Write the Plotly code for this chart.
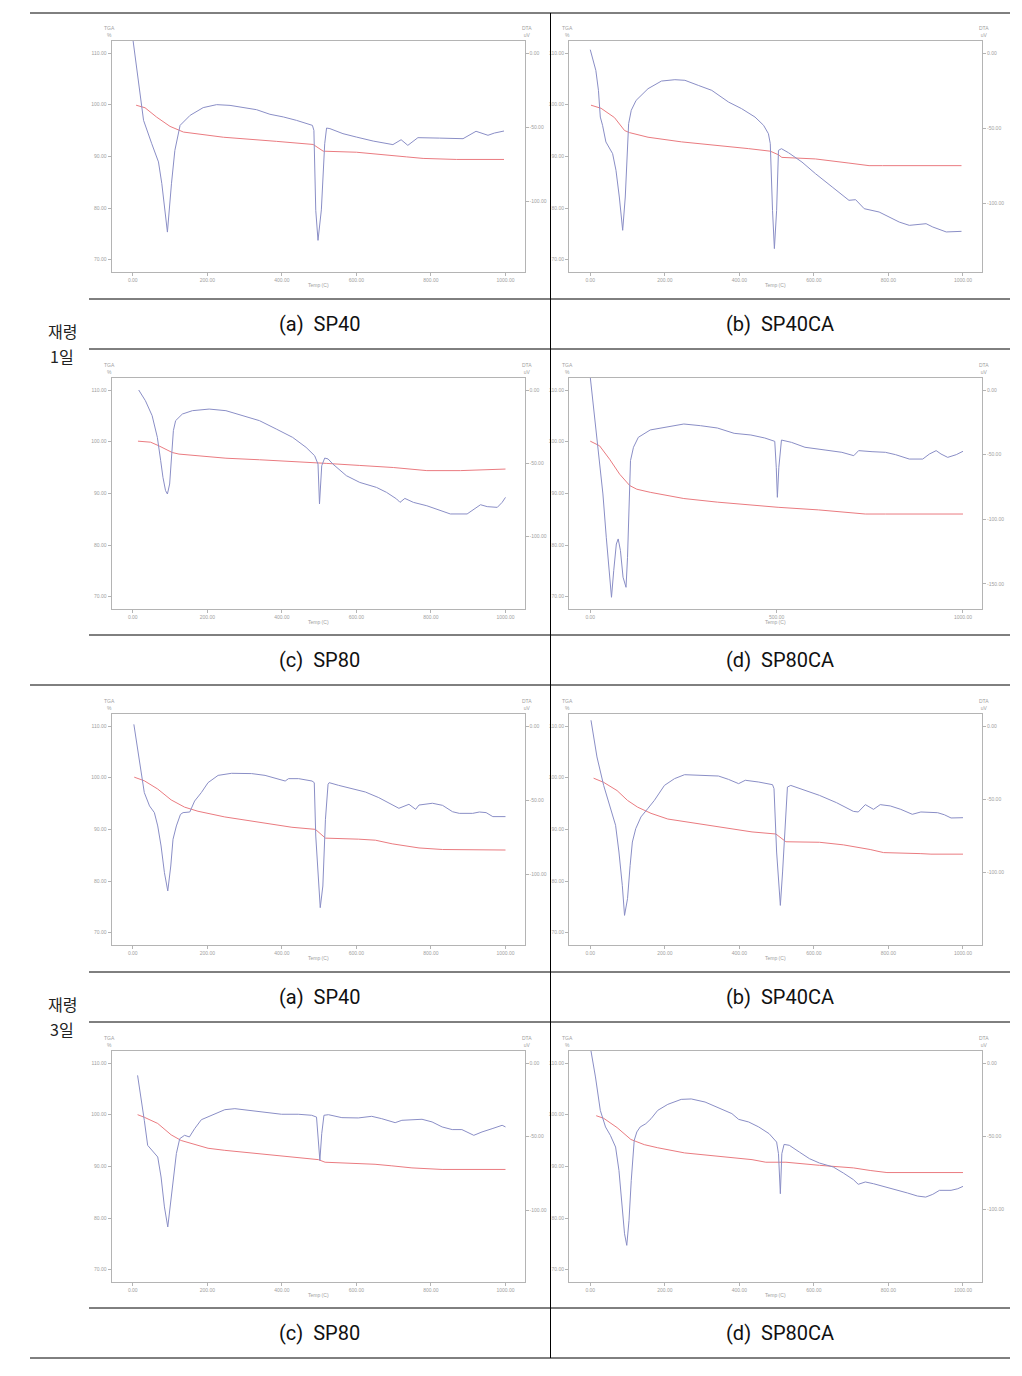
import plotly.graph_objects as go

# ---------------- data ----------------
# Day 1, (a) SP40
t_tga_1a = [9, 33, 64, 100, 136, 243, 386, 484, 511, 600, 734, 779, 868, 996]
tga_1a = [99.9, 99.4, 97.6, 95.8, 94.7, 93.7, 92.9, 92.3, 91.0, 90.8, 89.9, 89.6, 89.4, 89.4]
t_dta_1a = [0, 29, 51, 69, 78, 93, 104, 113, 127, 154, 189, 225, 261, 296, 332, 368, 404, 439, 482, 486, 491,
            497, 506, 515, 520, 529, 564, 600, 645, 698, 720, 738, 765, 823, 886, 921, 953, 970, 996]
dta_1a = [10, -45.5, -61.3, -73.6, -88.3, -121, -88, -65.8, -48.9, -42.1, -36.9, -34.9, -35.4, -36.9, -38.3,
          -41.4, -43.2, -45.5, -48.9, -52.3, -106.3, -126.6, -106, -61.3, -50.7, -51.1, -54.5, -56.8, -59.5,
          -61.9, -58.6, -62.4, -57.2, -57.5, -57.9, -52.9, -55.6, -54.1, -52.7]

# Day 1, (b) SP40CA
t_tga_1b = [2, 29, 65, 92, 105, 155, 245, 335, 424, 483, 505, 514, 604, 694, 748, 784, 996]
tga_1b = [99.9, 99.3, 97.5, 95.0, 94.6, 93.7, 92.8, 92.2, 91.5, 91.0, 90.3, 89.8, 89.5, 88.7, 88.2, 88.2, 88.2]
t_dta_1b = [0, 15, 22, 27, 33, 42, 60, 69, 78, 87, 94, 99, 103, 110, 123, 155, 191, 227, 254, 290, 326, 371,
            406, 442, 465, 478, 483, 489, 494, 500, 505, 513, 532, 568, 604, 649, 694, 712, 735, 775, 829, 856,
            901, 919, 955, 996]
dta_1b = [2.2, -11.6, -24.9, -42.7, -48.2, -59.3, -67.1, -78.2, -96, -118.2, -96, -69.3, -47.1, -38.2, -31.6,
          -23.8, -18.7, -17.8, -18.2, -21.6, -24.9, -32.7, -37.1, -42.7, -48.2, -53.8, -60.4, -104.9, -130.4,
          -104.9, -64.9, -63.8, -66.5, -72.7, -80.4, -89.3, -98.2, -97.8, -103.8, -106, -112.7, -114.9, -113.8,
          -116, -119.3, -118.9]

# Day 1, (c) SP80
t_tga_1c = [14, 48, 70, 106, 124, 196, 250, 340, 429, 501, 519, 609, 699, 789, 879, 1000]
tga_1c = [100.1, 99.9, 99.2, 97.9, 97.6, 97.1, 96.8, 96.5, 96.2, 96.0, 95.8, 95.4, 95.0, 94.4, 94.4, 94.7]
t_dta_1c = [16, 34, 52, 66, 75, 81, 88, 93, 99, 104, 109, 115, 133, 160, 205, 250, 295, 340, 385, 429, 465,
            488, 497, 501, 507, 515, 524, 537, 573, 609, 654, 681, 708, 717, 730, 753, 789, 825, 852, 897, 933,
            951, 978, 991, 1000]
dta_1c = [0, -7.3, -17.5, -32.3, -48.2, -59.5, -68.6, -70.9, -64.1, -41.4, -27.7, -20.9, -16.4, -14.1, -13,
          -14.1, -17.5, -20.9, -26.6, -32.3, -39.1, -44.8, -50.5, -77.7, -51.6, -46.4, -47, -50.5, -58.4, -63,
          -66.4, -69.8, -74.3, -76.6, -73.9, -76.6, -78.9, -81.8, -84.5, -84.5, -78.2, -79.5, -80, -76.6, -73.2]

# Day 1, (d) SP80CA
t_tga_1d = [0, 25, 52, 79, 106, 125, 161, 251, 341, 431, 504, 612, 702, 738, 792, 1000]
tga_1d = [100.1, 99.2, 96.6, 93.7, 91.5, 90.8, 90.2, 89.0, 88.3, 87.7, 87.3, 86.8, 86.2, 86.0, 86.0, 86.0]
t_dta_1d = [0, 12, 25, 34, 43, 51, 57, 63, 70, 75, 81, 88, 96, 100, 105, 108, 116, 129, 161, 206, 251, 296, 341,
            386, 431, 468, 495, 499, 502, 506, 513, 540, 576, 630, 675, 707, 720, 756, 792, 819, 856, 892, 910,
            928, 941, 959, 982, 1000]
dta_1d = [10, -21.1, -54.6, -80.4, -113.9, -144.8, -160.3, -139.7, -119.1, -115.2, -124.2, -144.8, -152.6,
          -129.4, -85.6, -54.6, -44.3, -36.6, -30.9, -28.4, -26.3, -27.6, -29.4, -33.5, -34.8, -37.1, -39.7,
          -59.8, -83, -59.8, -38.7, -40.5, -44.3, -46.4, -48.2, -50.8, -46.9, -47.7, -48.2, -50, -53.4, -53.4,
          -49.5, -46.9, -49.5, -52.1, -50, -47.4]

# Day 3, (a) SP40
t_tga_3a = [4, 31, 67, 103, 139, 175, 247, 337, 427, 490, 508, 517, 606, 651, 696, 768, 831, 876, 1000]
tga_3a = [100.1, 99.4, 97.8, 95.7, 94.3, 93.5, 92.4, 91.4, 90.4, 90.0, 88.8, 88.3, 88.1, 87.9, 87.2, 86.4,
          86.1, 86.1, 86.0]
t_dta_3a = [3, 18, 31, 45, 58, 67, 76, 85, 94, 102, 108, 117, 128, 135, 153, 166, 184, 202, 229, 265, 319, 355,
            391, 409, 418, 445, 481, 487, 491, 499, 503, 510, 517, 524, 527, 552, 588, 624, 660, 696, 714, 741,
            759, 768, 804, 831, 858, 876, 912, 930, 948, 966, 1000]
dta_3a = [1.1, -24.7, -44.9, -53.9, -58.4, -67.4, -80.9, -98.9, -111.2, -94.4, -76.4, -67.4, -59.6, -58.4, -58,
          -50.6, -44.9, -38.2, -33.3, -31.9, -32.1, -33.3, -35.5, -37.1, -35.5, -35.5, -37.1, -38.2, -74.2,
          -112.4, -122.5, -107.9, -62.9, -39.3, -38.2, -40, -42.2, -44.5, -48.3, -52.8, -55.5, -52.8, -56.2,
          -53.3, -52.1, -53.5, -57.8, -58.9, -58.9, -58, -58.4, -61.1, -61.1]

# Day 3, (b) SP40CA
t_tga_3b = [9, 36, 72, 100, 127, 163, 208, 253, 344, 434, 498, 516, 525, 615, 679, 751, 787, 887, 914, 1000]
tga_3b = [99.9, 99.1, 97.5, 95.6, 94.3, 93.1, 92.0, 91.5, 90.4, 89.5, 89.1, 88.1, 87.6, 87.5, 87.0, 86.1,
          85.5, 85.3, 85.2, 85.2]
t_dta_3b = [2, 18, 36, 54, 68, 77, 86, 92, 100, 107, 113, 122, 136, 154, 172, 199, 226, 253, 281, 317, 344, 371,
            398, 416, 452, 489, 493, 500, 507, 510, 516, 525, 529, 538, 579, 615, 661, 706, 719, 738, 760, 778,
            805, 833, 864, 887, 932, 950, 968, 1000]
dta_3b = [3.9, -21.1, -40.5, -56.4, -67.7, -85.9, -108.6, -129.1, -117.7, -95, -79.1, -70, -62, -56.4, -50.7,
          -40.5, -35.9, -33.2, -33.6, -34.1, -34.1, -36.4, -39.3, -37, -38.2, -40, -42.7, -85.9, -117.7, -122.3,
          -99.5, -58.6, -41.6, -40.5, -43.9, -47.3, -52.3, -58.2, -58.6, -53.6, -56.8, -53.6, -54.5, -56.8,
          -60.2, -58.6, -59.1, -60.5, -62.7, -62.5]

# Day 3, (c) SP80
t_tga_3c = [13, 31, 67, 103, 130, 157, 202, 247, 336, 426, 498, 516, 605, 650, 695, 749, 830, 874, 1000]
tga_3c = [100.0, 99.5, 98.3, 96.1, 95.0, 94.4, 93.5, 93.1, 92.5, 91.8, 91.3, 90.8, 90.5, 90.4, 90.1, 89.7,
          89.4, 89.4, 89.4]
t_dta_3c = [13, 21, 31, 40, 54, 67, 76, 85, 94, 103, 110, 117, 126, 139, 152, 166, 184, 211, 247, 274, 309, 336,
            372, 399, 444, 480, 493, 498, 502, 507, 513, 525, 561, 605, 641, 668, 704, 722, 749, 776, 803, 830,
            857, 883, 915, 937, 964, 991, 1000]
dta_3c = [-8.4, -20.8, -38.9, -55.9, -60.4, -63.8, -77.4, -97.7, -111.3, -93.2, -75.1, -61.5, -51.4, -49.1,
          -50.2, -44.6, -38.5, -35.5, -31.7, -31, -32.1, -32.6, -33.9, -34.8, -34.8, -35.5, -36.7, -57, -66.1,
          -48, -35.5, -35.1, -37.1, -37.3, -36.2, -37.8, -40.5, -38.9, -38.5, -38.2, -40, -43.4, -45.2, -45.2,
          -49.1, -46.8, -44.6, -42.3, -43.4]

# Day 3, (d) SP80CA
t_tga_3d = [16, 36, 72, 109, 145, 181, 253, 344, 434, 471, 525, 615, 706, 751, 796, 1000]
tga_3d = [99.8, 99.3, 97.5, 95.2, 94.2, 93.6, 92.6, 92.0, 91.3, 90.8, 90.8, 90.2, 89.7, 89.2, 88.8, 88.8]
t_dta_3d = [2, 14, 27, 41, 54, 68, 77, 86, 92, 98, 104, 110, 118, 125, 134, 149, 163, 181, 208, 244, 271, 308,
            344, 380, 398, 425, 452, 480, 500, 505, 510, 514, 520, 534, 561, 588, 615, 652, 679, 706, 719, 738,
            760, 787, 814, 851, 878, 900, 919, 937, 968, 986, 1000]
dta_3d = [8.2, -9.5, -32.3, -43.6, -49.3, -57.3, -73.2, -98.2, -116.4, -124.3, -107.3, -80, -52.7, -47, -43.6,
          -41.4, -38, -32.3, -28.2, -24.8, -24.5, -26.6, -30.5, -34.5, -38.4, -40.2, -43.6, -48.2, -53.9, -61.8,
          -89.1, -61.8, -55.5, -56.1, -60.7, -65.2, -68.2, -70.9, -75, -79.5, -82.7, -81.1, -82.3, -84.1, -85.7,
          -88.6, -90.7, -91.4, -89.5, -86.8, -86.8, -85.7, -84.1]

captions = ["(a)  SP40", "(b)  SP40CA", "(c)  SP80", "(d)  SP80CA"]
age_top = "재령"
age_days = ["1일", "3일"]

x_ticks_main = [0, 200, 400, 600, 800, 1000]
x_ticks_wide = [0, 500, 1000]
tga_ticks = [110, 100, 90, 80, 70]
dta_ticks = [0, -50, -100, -150]

charts = [
    dict(tt=t_tga_1a, tg=tga_1a, td=t_dta_1a, dt=dta_1a, row=0, col=0, s=1.48, xt=x_ticks_main),
    dict(tt=t_tga_1b, tg=tga_1b, td=t_dta_1b, dt=dta_1b, row=0, col=1, s=1.50, xt=x_ticks_main),
    dict(tt=t_tga_1c, tg=tga_1c, td=t_dta_1c, dt=dta_1c, row=1, col=0, s=1.467, xt=x_ticks_main),
    dict(tt=t_tga_1d, tg=tga_1d, td=t_dta_1d, dt=dta_1d, row=1, col=1, s=1.293, xt=x_ticks_wide),
    dict(tt=t_tga_3a, tg=tga_3a, td=t_dta_3a, dt=dta_3a, row=2, col=0, s=1.483, xt=x_ticks_main),
    dict(tt=t_tga_3b, tg=tga_3b, td=t_dta_3b, dt=dta_3b, row=2, col=1, s=1.467, xt=x_ticks_main),
    dict(tt=t_tga_3c, tg=tga_3c, td=t_dta_3c, dt=dta_3c, row=3, col=0, s=1.473, xt=x_ticks_main),
    dict(tt=t_tga_3d, tg=tga_3d, td=t_dta_3d, dt=dta_3d, row=3, col=1, s=1.467, xt=x_ticks_main),
]

# ---------------- layout geometry (pixels) ----------------
W, H = 1022, 1376
def fx(px):
    return px / W
def fy(py):
    return 1 - py / H

col_x = [(111.5, 524.5), (569.0, 982.0)]
row_top = [41, 378, 714, 1051]
plot_h = 231
tick_off = 12  # px from plot top to top tick

AX = "#b4b4b4"
TK = "#a0a0a0"
BLUE = "#8a8ec6"
RED = "#ea7b80"
TICKFONT = dict(size=5, color=TK, family="Liberation Sans Narrow, Arial")

fig = go.Figure()
layout = dict(
    width=W, height=H, margin=dict(l=0, r=0, t=0, b=0),
    paper_bgcolor="white", plot_bgcolor="white", showlegend=False,
)
annotations = []
shapes = []

tga_px_per = 206.7 / 40.0
tga_range = [110 - (plot_h - tick_off) / tga_px_per, 110 + tick_off / tga_px_per]

for i, c in enumerate(charts):
    xn = "xaxis" if i == 0 else f"xaxis{i+1}"
    xr = "x" if i == 0 else f"x{i+1}"
    yl = 2 * i + 1
    yr = 2 * i + 2
    yln = "yaxis" if yl == 1 else f"yaxis{yl}"
    ylr = "y" if yl == 1 else f"y{yl}"
    yrn = f"yaxis{yr}"
    yrr = f"y{yr}"
    x0, x1 = col_x[c["col"]]
    top = row_top[c["row"]]
    bot = top + plot_h

    fig.add_trace(go.Scatter(x=c["tt"], y=c["tg"], mode="lines", xaxis=xr, yaxis=ylr,
                             line=dict(color=RED, width=1), hoverinfo="skip"))
    fig.add_trace(go.Scatter(x=c["td"], y=c["dt"], mode="lines", xaxis=xr, yaxis=yrr,
                             line=dict(color=BLUE, width=1), hoverinfo="skip"))

    s = c["s"]
    dta_range = [-(plot_h - tick_off) / s, tick_off / s]
    dticks = [v for v in dta_ticks if v >= dta_range[0] + 4]

    layout[xn] = dict(domain=[fx(x0), fx(x1)], anchor=ylr, range=[-57, 1051],
                      tickvals=c["xt"], ticktext=[f"{v:.2f}" for v in c["xt"]],
                      showline=True, mirror=True, linecolor=AX, linewidth=1,
                      ticks="outside", ticklen=3, tickcolor=AX, tickfont=TICKFONT,
                      showgrid=False, zeroline=False, fixedrange=True)
    layout[yln] = dict(domain=[fy(bot), fy(top)], anchor=xr, range=tga_range,
                       tickvals=tga_ticks, ticktext=[f"{v:.2f}" for v in tga_ticks],
                       showline=True, linecolor=AX, linewidth=1,
                       ticks="outside", ticklen=3, tickcolor=AX, tickfont=TICKFONT,
                       showgrid=False, zeroline=False, fixedrange=True)
    layout[yrn] = dict(overlaying=ylr, side="right", anchor=xr, range=dta_range,
                       tickvals=dticks, ticktext=[f"{v:.2f}" for v in dticks],
                       showline=True, linecolor=AX, linewidth=1,
                       ticks="outside", ticklen=3, tickcolor=AX, tickfont=TICKFONT,
                       showgrid=False, zeroline=False, fixedrange=True)

    # axis captions
    annotations.append(dict(text="Temp (C)", x=fx((x0 + x1) / 2), y=fy(bot + 13), xref="paper", yref="paper",
                            showarrow=False, font=dict(size=5, color=TK, family="Arial"),
                            xanchor="center", yanchor="middle"))
    annotations.append(dict(text="TGA<br>%", x=fx(x0 - 2), y=fy(top - 1), xref="paper", yref="paper",
                            showarrow=False, font=dict(size=5, color=TK, family="Arial"),
                            xanchor="center", yanchor="bottom"))
    annotations.append(dict(text="DTA<br>uV", x=fx(x1 + 2), y=fy(top - 1), xref="paper", yref="paper",
                            showarrow=False, font=dict(size=5, color=TK, family="Arial"),
                            xanchor="center", yanchor="bottom"))

# ---------------- table rules ----------------
def hline(y, xa, xb):
    shapes.append(dict(type="line", xref="paper", yref="paper", x0=fx(xa), x1=fx(xb), y0=fy(y), y1=fy(y),
                       line=dict(color="black", width=1)))

hline(13, 30, 1010)
for y in [299, 349, 635, 972, 1022, 1308]:
    hline(y, 89, 1010)
hline(685, 30, 1010)
hline(1358, 30, 1010)
shapes.append(dict(type="line", xref="paper", yref="paper", x0=fx(550.5), x1=fx(550.5), y0=fy(13), y1=fy(1358),
                   line=dict(color="black", width=1)))

# captions
cap_y = [324, 660, 997, 1333]
cap_x = [319.5, 780]
for r in range(4):
    for cc in range(2):
        txt = captions[(r % 2) * 2 + cc]
        annotations.append(dict(text=txt, x=fx(cap_x[cc]), y=fy(cap_y[r]), xref="paper", yref="paper",
                                showarrow=False, xanchor="center", yanchor="middle",
                                font=dict(size=20, color="#111",
                                          family="Liberation Sans Narrow, Arial Narrow, Roboto, sans-serif")))

for k, yy in enumerate([331, 1004]):
    annotations.append(dict(text=age_top, x=fx(62), y=fy(yy), xref="paper", yref="paper",
                            showarrow=False, xanchor="center", yanchor="middle",
                            font=dict(size=16, color="#222", family="Noto Sans CJK KR")))
    annotations.append(dict(text=age_days[k], x=fx(62), y=fy(yy + 25), xref="paper", yref="paper",
                            showarrow=False, xanchor="center", yanchor="middle",
                            font=dict(size=16, color="#222", family="Noto Sans CJK KR")))

layout["annotations"] = annotations
layout["shapes"] = shapes
fig.update_layout(**layout)
fig.write_html("out.html")
